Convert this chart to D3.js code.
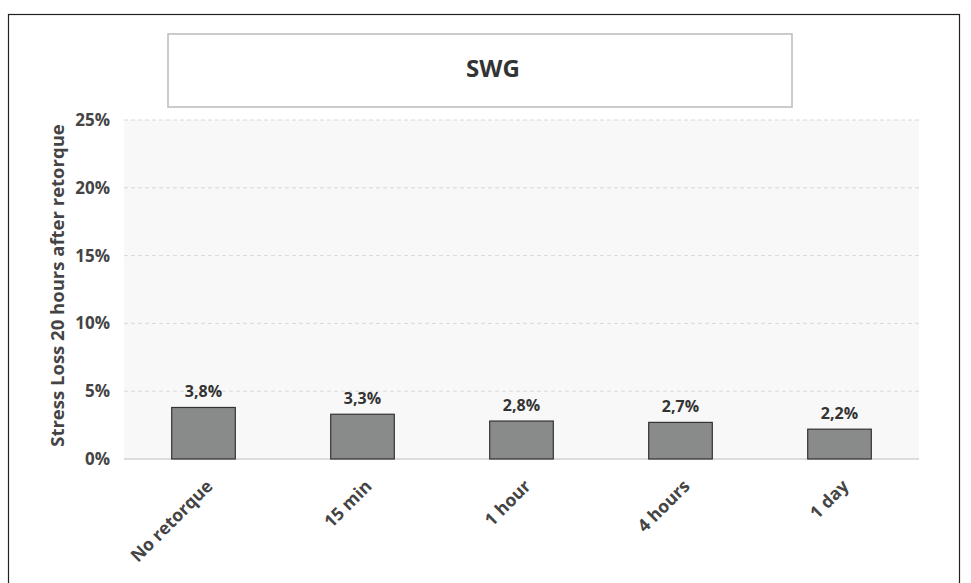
<!DOCTYPE html>
<html><head><meta charset="utf-8">
<script src="https://cdn.jsdelivr.net/npm/d3@7"></script>
<style>body{margin:0;background:#fff;font-family:"Open Sans",sans-serif;}</style>
</head><body>
<svg id="c" width="971" height="583"></svg>
<script>
const categories = ["No retorque","15 min","1 hour","4 hours","1 day"];
const values = [3.8, 3.3, 2.8, 2.7, 2.2];
const valueLabels = ["3,8%","3,3%","2,8%","2,7%","2,2%"];
const yTicks = [0,5,10,15,20,25];
const title = "SWG";
const yTitle = "Stress Loss 20 hours after retorque";

const svg = d3.select("#c");
svg.append("rect").attr("x",8.5).attr("y",14.5).attr("width",951).attr("height",600)
  .attr("fill","#fff").attr("stroke","#222").attr("stroke-width",1.2);
svg.append("rect").attr("x",168).attr("y",34).attr("width",624).attr("height",73)
  .attr("fill","#fff").attr("stroke","#bbb").attr("stroke-width",1.5);
svg.append("text").attr("x",493).attr("y",71).attr("text-anchor","middle").attr("dominant-baseline","middle")
  .attr("font-size",24).attr("font-weight",700).attr("fill","#333").text(title);

const m = {l:124, r:919, t:120, b:459};
const x = d3.scaleBand().domain(categories).range([m.l,m.r]).paddingInner(0.6).paddingOuter(0.3);
const y = d3.scaleLinear().domain([0,25]).range([m.b,m.t]);

svg.append("rect").attr("x",m.l).attr("y",m.t).attr("width",m.r-m.l).attr("height",m.b-m.t).attr("fill","#f8f8f8");
svg.append("g").selectAll("line").data(yTicks.filter(d=>d>0)).join("line")
  .attr("x1",m.l).attr("x2",m.r).attr("y1",d=>y(d)).attr("y2",d=>y(d))
  .attr("stroke","#d8d8d8").attr("stroke-dasharray","4,3").attr("stroke-width",1);
svg.append("line").attr("x1",m.l).attr("x2",m.r).attr("y1",y(0)).attr("y2",y(0)).attr("stroke","#dcdcdc").attr("stroke-width",2);

const yAxis = svg.append("g").attr("transform",`translate(${m.l},0)`)
  .call(d3.axisLeft(y).tickValues(yTicks).tickFormat(d=>d+"%").tickSize(0).tickPadding(14));
yAxis.select(".domain").remove();
yAxis.selectAll("text").attr("font-size",17).attr("font-weight",700).attr("fill","#444").attr("font-family","Open Sans");

svg.append("g").selectAll("rect").data(values).join("rect")
  .attr("x",(d,i)=>x(categories[i])).attr("width",x.bandwidth())
  .attr("y",d=>y(d)).attr("height",d=>y(0)-y(d))
  .attr("fill","#898b8b").attr("stroke","#333").attr("stroke-width",1.2);
svg.append("g").selectAll("text").data(values).join("text")
  .attr("x",(d,i)=>x(categories[i])+x.bandwidth()/2).attr("y",d=>y(d)-10)
  .attr("text-anchor","middle").attr("font-size",16).attr("font-weight",700).attr("fill","#333")
  .text((d,i)=>valueLabels[i]);

const xAxis = svg.append("g").attr("transform",`translate(0,${m.b})`)
  .call(d3.axisBottom(x).tickSize(0).tickPadding(0));
xAxis.select(".domain").remove();
xAxis.selectAll("text").attr("font-size",17.5).attr("font-weight",700).attr("fill","#444").attr("font-family","Open Sans")
  .attr("text-anchor","end").attr("dy",null).attr("transform","translate(7,25) rotate(-45)").attr("dominant-baseline","middle");

svg.append("text").attr("transform",`translate(59,${(m.t+m.b)/2 - 4}) rotate(-90)`)
  .attr("text-anchor","middle").attr("dominant-baseline","middle")
  .attr("font-size",18.5).attr("font-weight",700).attr("fill","#444").text(yTitle);
</script>
</body></html>
